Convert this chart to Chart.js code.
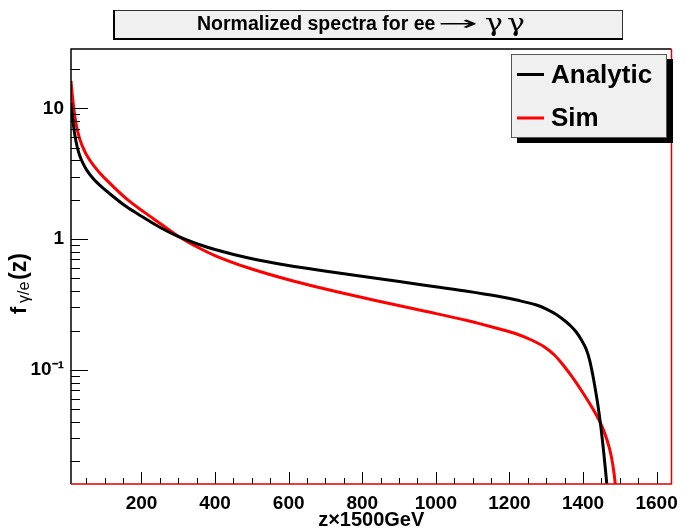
<!DOCTYPE html>
<html>
<head>
<meta charset="utf-8">
<script src="https://cdn.jsdelivr.net/npm/chart.js@4/dist/chart.umd.min.js"></script>
<style>
html,body{margin:0;padding:0;background:#fff;}
canvas{display:block;}
</style>
</head>
<body>
<canvas id="c" width="686" height="528"></canvas>
<script>
// ---- data ----
const zAnalytic = [8.4, 10.25, 12.41, 14.57, 19.15, 23.74, 28.06, 32.64, 40.73, 50.71, 68.52, 86.59, 113.6, 158.6, 208.0, 248.5, 297.8, 356.4, 399.5, 491.2, 599.1, 707.0, 841.9, 895.9, 1003.8, 1084.7, 1165.6, 1219.6, 1273.5, 1300.5, 1327.5, 1354.5, 1368.0, 1381.4, 1394.9, 1408.4, 1417.9, 1426.5, 1434.0, 1440.0, 1444.8, 1448.9, 1452.9, 1456.4, 1459.7, 1462.4, 1465.1, 1467.8];
const fAnalytic = [10.98, 9.70, 8.537, 7.598, 6.173, 5.287, 4.725, 4.296, 3.805, 3.381, 2.906, 2.583, 2.224, 1.772, 1.450, 1.237, 1.052, 0.909, 0.833, 0.717, 0.628, 0.565, 0.4995, 0.4768, 0.430, 0.3996, 0.367, 0.342, 0.3134, 0.292, 0.2652, 0.2324, 0.2147, 0.1949, 0.1708, 0.1445, 0.1190, 0.0914, 0.0696, 0.0548, 0.0440, 0.0359, 0.0286, 0.02316, 0.01874, 0.01559, 0.01296, 0.01086];
const zSim = [8.4, 10.25, 12.41, 14.57, 19.15, 23.74, 28.06, 32.64, 40.73, 50.71, 68.52, 86.59, 113.6, 158.6, 208.0, 248.5, 297.8, 356.4, 399.5, 491.2, 617.2, 734.0, 841.9, 967.9, 1084.7, 1165.6, 1219.6, 1260.0, 1295.1, 1322.1, 1343.7, 1368.0, 1399.5, 1426.5, 1444.3, 1457.8, 1471.3, 1478.6, 1484.8, 1488.0, 1490.7];
const fSim = [16.17, 14.12, 12.27, 10.79, 8.598, 7.246, 6.407, 5.764, 5.024, 4.395, 3.692, 3.208, 2.676, 2.037, 1.600, 1.330, 1.062, 0.855, 0.749, 0.601, 0.474, 0.394, 0.3364, 0.2820, 0.2385, 0.2080, 0.1881, 0.1693, 0.1497, 0.1300, 0.1110, 0.0903, 0.0669, 0.0505, 0.0410, 0.03345, 0.02546, 0.02055, 0.01578, 0.01304, 0.01105];
const seriesNames = ['Analytic', 'Sim'];
const xTickValues = [200, 400, 600, 800, 1000, 1200, 1400, 1600];
const yTickValues = [0.1, 1, 10];
const yTickLabels = ['10\u207B\u00B9', '1', '10'];
const titleText = 'Normalized spectra for ee';
const xTitle = 'z\u00D71500GeV';

const FONT = '"Liberation Sans", Arial, Helvetica, sans-serif';

const rootPlugin = {
  id: 'rootStyle',
  afterDatasetsDraw(chart) {
    const ctx = chart.ctx, a = chart.chartArea;
    const xs = chart.scales.x, ys = chart.scales.y;
    ctx.save();
    // x ticks (inside)
    ctx.strokeStyle = '#000'; ctx.lineWidth = 1;
    ctx.beginPath();
    for (let v = 50; v <= 1650; v += 50) {
      const px = Math.round(xs.getPixelForValue(v)) + 0.5;
      if (px < a.left || px > a.right) continue;
      const len = (v % 200 === 0) ? 12 : 6;
      ctx.moveTo(px, a.bottom); ctx.lineTo(px, a.bottom - len);
    }
    // y ticks (inside)
    for (let d = -2; d <= 1; d++) {
      for (let k = 1; k <= 9; k++) {
        const v = k * Math.pow(10, d);
        const py = Math.round(ys.getPixelForValue(v)) + 0.5;
        if (py < a.top || py > a.bottom) continue;
        const len = (k === 1) ? 17 : 9;
        ctx.moveTo(a.left, py); ctx.lineTo(a.left + len, py);
      }
    }
    ctx.stroke();
    // frame
    ctx.lineWidth = 1.5;
    ctx.strokeStyle = '#000';
    ctx.beginPath(); ctx.moveTo(a.left, a.bottom); ctx.lineTo(a.left, a.top); ctx.lineTo(a.right, a.top); ctx.stroke();
    ctx.strokeStyle = '#e00000';
    ctx.beginPath(); ctx.moveTo(a.left, a.bottom); ctx.lineTo(a.right, a.bottom); ctx.lineTo(a.right, a.top); ctx.stroke();

    // legend box
    const lx = 511, ly = 54, lw = 156, lh = 84;
    ctx.fillStyle = '#000';
    ctx.fillRect(lx + 6, ly + 5, lw, lh);
    ctx.fillStyle = '#f0f0f0';
    ctx.fillRect(lx, ly, lw, lh);
    ctx.strokeStyle = '#555'; ctx.lineWidth = 1;
    ctx.strokeRect(lx + 0.5, ly + 0.5, lw - 1, lh - 1);
    const rows = [74.5, 118];
    chart.data.datasets.forEach((ds, i) => {
      ctx.strokeStyle = ds.borderColor; ctx.lineWidth = 3;
      ctx.beginPath(); ctx.moveTo(517, rows[i]); ctx.lineTo(544, rows[i]); ctx.stroke();
      ctx.fillStyle = '#000';
      ctx.font = 'bold 26px ' + FONT;
      ctx.textBaseline = 'alphabetic'; ctx.textAlign = 'left';
      ctx.fillText(ds.label, 551, rows[i] + 8);
    });

    // title box
    ctx.fillStyle = '#f0f0f0';
    ctx.fillRect(113, 10, 510, 30);
    ctx.strokeStyle = '#333'; ctx.lineWidth = 1;
    ctx.strokeRect(113.5, 10.5, 509, 29);
    ctx.fillStyle = '#000';
    ctx.fillRect(113, 10, 2, 30);
    ctx.fillRect(113, 38, 510, 2);
    ctx.font = 'bold 19.5px ' + FONT;
    ctx.textBaseline = 'alphabetic'; ctx.textAlign = 'left';
    ctx.fillText(titleText, 197, 30);
    // arrow (stretched)
    ctx.save();
    ctx.font = '20px "DejaVu Sans"';
    const aw = ctx.measureText('\u2192').width;
    ctx.translate(438, 30);
    ctx.scale(40 / aw, 1);
    ctx.fillText('\u2192', 0, 0);
    ctx.restore();
    // gamma gamma
    ctx.font = '24px "DejaVu Serif"';
    [485, 507].forEach(gx => {
      ctx.save();
      ctx.translate(gx, 31);
      ctx.scale(1.25, 1);
      ctx.fillText('\u03B3', 0, 0);
      ctx.restore();
    });

    // x axis title
    ctx.font = 'bold 20px ' + FONT;
    ctx.textAlign = 'center';
    ctx.fillText(xTitle, (a.left + a.right) / 2, 526);

    // y axis title (rotated)
    ctx.save();
    ctx.rotate(-Math.PI / 2);
    ctx.textAlign = 'left';
    ctx.font = 'bold 22px ' + FONT;
    ctx.fillText('f', -314, 26);
    ctx.font = '16px ' + FONT;
    ctx.fillText('\u03B3/e', -303, 29);
    ctx.font = 'bold 23px ' + FONT;
    ctx.fillText('(z)', -280, 26);
    ctx.restore();

    ctx.restore();
  }
};

const mk = (zs, fs) => zs.map((z, i) => ({ x: z, y: fs[i] }));

new Chart(document.getElementById('c'), {
  type: 'line',
  data: {
    datasets: [
      { label: seriesNames[0], data: mk(zAnalytic, fAnalytic), borderColor: '#000000', borderWidth: 3, pointRadius: 0, cubicInterpolationMode: 'monotone', fill: false, clip: 0 },
      { label: seriesNames[1], data: mk(zSim, fSim), borderColor: '#ff0000', borderWidth: 3, pointRadius: 0, cubicInterpolationMode: 'monotone', fill: false, clip: 0 }
    ]
  },
  options: {
    responsive: false,
    animation: false,
    devicePixelRatio: 1,
    layout: { padding: { top: 49, right: 10, left: 0, bottom: 0 } },
    plugins: { legend: { display: false }, title: { display: false }, tooltip: { enabled: false } },
    scales: {
      x: {
        type: 'linear', min: 8.4, max: 1640.4,
        grid: { display: false, drawTicks: false }, border: { display: false },
        afterFit(s) { s.height = 44; },
        afterBuildTicks(s) { s.ticks = xTickValues.map(v => ({ value: v })); },
        ticks: { padding: 8, color: '#000', autoSkip: false, maxRotation: 0, font: { family: FONT, size: 19, weight: 'bold' }, callback: v => String(v) }
      },
      y: {
        type: 'logarithmic', min: 0.01342, max: 28.4,
        grid: { display: false, drawTicks: false }, border: { display: false },
        afterFit(s) { s.width = 71; },
        afterBuildTicks(s) { s.ticks = yTickValues.map(v => ({ value: v })); },
        ticks: { padding: 7, color: '#000', autoSkip: false, font: { family: FONT, size: 19, weight: 'bold' },
          callback: v => { const i = yTickValues.findIndex(t => Math.abs(t - v) < 1e-9 * Math.max(1, v)); return i >= 0 ? yTickLabels[i] : ''; } }
      }
    }
  },
  plugins: [rootPlugin]
});
</script>
</body>
</html>
